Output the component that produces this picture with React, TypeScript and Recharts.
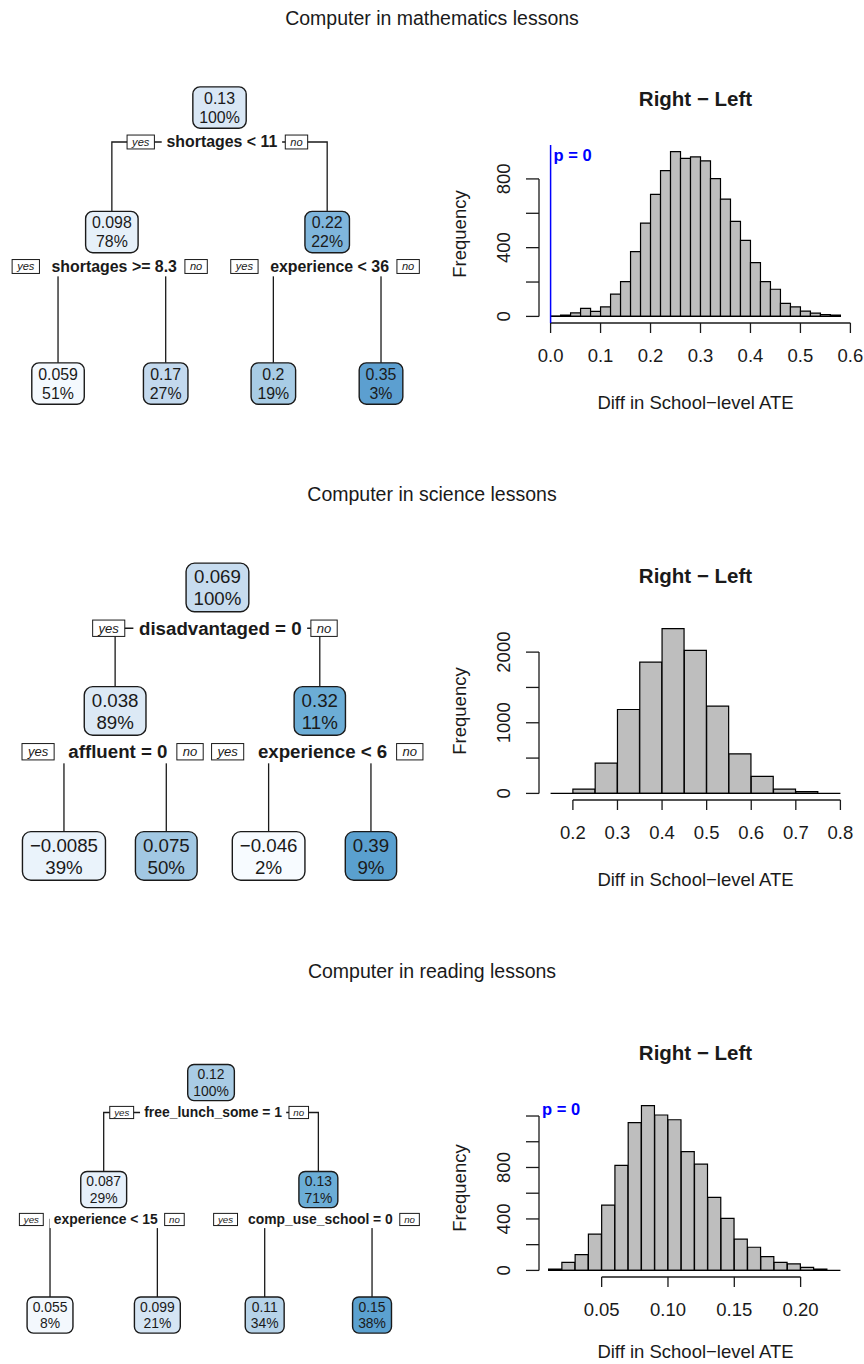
import React from 'react';
import {
  Bar,
  ComposedChart,
  ReferenceDot,
  ReferenceLine,
  Scatter,
  ScatterChart,
  XAxis,
  YAxis,
} from 'recharts';

const FONT = '"Liberation Sans", Arial, Helvetica, sans-serif';
const INK = '#1a1a1a';

// tree nodes: root, left child, right child, then the four leaves left to right
const mathFit = ['0.13', '0.098', '0.22', '0.059', '0.17', '0.2', '0.35'];
const mathShare = ['100%', '78%', '22%', '51%', '27%', '19%', '3%'];
const mathSplit = ['shortages < 11', 'shortages >= 8.3', 'experience < 36'];

const sciFit = ['0.069', '0.038', '0.32', '\u22120.0085', '0.075', '\u22120.046', '0.39'];
const sciShare = ['100%', '89%', '11%', '39%', '50%', '2%', '9%'];
const sciSplit = ['disadvantaged = 0', 'affluent = 0', 'experience < 6'];

const readFit = ['0.12', '0.087', '0.13', '0.055', '0.099', '0.11', '0.15'];
const readShare = ['100%', '29%', '71%', '8%', '21%', '34%', '38%'];
const readSplit = ['free_lunch_some = 1', 'experience < 15', 'comp_use_school = 0'];

// box colours (Blues palette by fitted value)
const mathFill = ['#d9e7f5', '#e6f0f9', '#7fb6dc', '#f4f9fe', '#c3d9ee', '#a8cce5', '#5c9fd0'];
const sciFill = ['#c7dcef', '#dce9f5', '#6cadd6', '#eaf3fb', '#a2c8e3', '#f7fbff', '#5aa0cf'];
const readFill = ['#a9cce5', '#e6f0fa', '#6badd6', '#f3f8fd', '#d5e5f4', '#b6d3e9', '#5ba1d0'];

// histograms of the bootstrap difference (bin starts and counts)
const mathBins = [0, 0.02, 0.04, 0.06, 0.08, 0.1, 0.12, 0.14, 0.16, 0.18, 0.2, 0.22, 0.24, 0.26, 0.28,
  0.3, 0.32, 0.34, 0.36, 0.38, 0.4, 0.42, 0.44, 0.46, 0.48, 0.5, 0.52, 0.54, 0.56];
const mathCounts = [2, 8, 20, 47, 29, 55, 130, 202, 377, 543, 710, 848, 959, 920, 928,
  905, 802, 683, 553, 442, 313, 202, 158, 76, 55, 31, 19, 10, 8];

const sciBins = [0.2, 0.25, 0.3, 0.35, 0.4, 0.45, 0.5, 0.55, 0.6, 0.65, 0.7];
const sciCounts = [62, 428, 1188, 1857, 2333, 2024, 1235, 561, 242, 62, 24];

const readBins = [0.01, 0.02, 0.03, 0.04, 0.05, 0.06, 0.07, 0.08, 0.09, 0.1, 0.11, 0.12, 0.13, 0.14,
  0.15, 0.16, 0.17, 0.18, 0.19, 0.2, 0.21];
const readCounts = [10, 63, 123, 282, 507, 816, 1148, 1281, 1208, 1171, 923, 826, 567, 405,
  243, 180, 107, 63, 50, 24, 10];

const mathXTicks = [0, 0.1, 0.2, 0.3, 0.4, 0.5, 0.6];
const sciXTicks = [0.2, 0.3, 0.4, 0.5, 0.6, 0.7, 0.8];
const readXTicks = [0.05, 0.1, 0.15, 0.2];
const mathYTicks = [0, 200, 400, 600, 800];
const sciYTicks = [0, 500, 1000, 1500, 2000];
const readYTicks = [0, 200, 400, 600, 800, 1000, 1200];
const mathYLabels = [0, 400, 800];
const sciYLabels = [0, 1000, 2000];
const readYLabels = [0, 400, 800];

let measureCtx: CanvasRenderingContext2D | null = null;
function textWidth(s: string, size: number, weight = 'normal', style = 'normal') {
  if (!measureCtx) measureCtx = document.createElement('canvas').getContext('2d');
  if (!measureCtx) return s.length * size * 0.55;
  measureCtx.font = `${style} ${weight} ${size}px "Liberation Sans"`;
  return measureCtx.measureText(s).width;
}

interface TreeLayout {
  font: number;
  xDomain: [number, number];
  yDomain: [number, number];
  leafDepth: number;
  labelGap: number;
  top: number;
  height: number;
}

const noDot = () => <g />;

function NodeBox(props: any) {
  const { cx, cy, payload } = props;
  const f = payload.font;
  const w = Math.max(textWidth(payload.fit, f), textWidth(payload.share, f)) + 0.8 * f;
  const h = 2.6 * f;
  return (
    <g>
      <rect x={cx - w / 2} y={cy - h / 2} width={w} height={h} rx={0.45 * f}
        fill={payload.fill} stroke={INK} strokeWidth={1.4} />
      <text x={cx} y={cy - 0.58 * f} textAnchor="middle" dominantBaseline="central"
        fontSize={f} fill={INK}>{payload.fit}</text>
      <text x={cx} y={cy + 0.6 * f} textAnchor="middle" dominantBaseline="central"
        fontSize={f} fill={INK}>{payload.share}</text>
    </g>
  );
}

function SplitLabel(props: any) {
  const { cx, cy, payload } = props;
  const f = payload.font;
  const tw = textWidth(payload.split, f, 'bold');
  const tc = cx + 0.15 * f;
  const left = tc - tw / 2;
  const right = tc + tw / 2;
  const yf = 0.7 * f;
  const yesW = textWidth('yes', yf, 'normal', 'italic') + 0.9 * yf;
  const noW = textWidth('no', yf, 'normal', 'italic') + 0.9 * yf;
  const bh = 1.25 * yf;
  const yesX = left - 0.76 * f - yesW;
  const noX = right + 0.5 * f;
  return (
    <g>
      <rect x={left - 0.3 * f} y={cy - 0.62 * f} width={tw + 0.6 * f} height={1.24 * f} fill="#fff" />
      <text x={tc} y={cy} textAnchor="middle" dominantBaseline="central" fontSize={f}
        fontWeight="bold" fill={INK}>{payload.split}</text>
      <rect x={yesX} y={cy - bh / 2} width={yesW} height={bh} fill="#fff" stroke={INK} strokeWidth={1} />
      <text x={yesX + yesW / 2} y={cy} textAnchor="middle" dominantBaseline="central"
        fontSize={yf} fontStyle="italic" fill={INK}>yes</text>
      <rect x={noX} y={cy - bh / 2} width={noW} height={bh} fill="#fff" stroke={INK} strokeWidth={1} />
      <text x={noX + noW / 2} y={cy} textAnchor="middle" dominantBaseline="central"
        fontSize={yf} fontStyle="italic" fill={INK}>no</text>
    </g>
  );
}

function Tree({ fit, share, split, fill, lay }: {
  fit: string[]; share: string[]; split: string[]; fill: string[]; lay: TreeLayout;
}) {
  const nodes = fit.map((v, i) => ({ fit: v, share: share[i], fill: fill[i], font: lay.font, x: 0, y: 0 }));
  for (let i = 3; i < 7; i++) {
    nodes[i].x = i - 3;
    nodes[i].y = lay.leafDepth;
  }
  for (let i = 2; i >= 0; i--) {
    nodes[i].x = (nodes[2 * i + 1].x + nodes[2 * i + 2].x) / 2;
    nodes[i].y = i === 0 ? 0 : 1;
  }
  const labels = split.map((s, i) => ({ split: s, font: lay.font, x: nodes[i].x, y: nodes[i].y + lay.labelGap }));
  const branches = split.map((_, i) => {
    const l = nodes[2 * i + 1];
    const r = nodes[2 * i + 2];
    const yl = nodes[i].y + lay.labelGap;
    return [{ x: l.x, y: l.y }, { x: l.x, y: yl }, { x: r.x, y: yl }, { x: r.x, y: r.y }];
  });

  return (
    <div style={{ position: 'absolute', left: 0, top: lay.top }}>
      <ScatterChart width={430} height={lay.height} margin={{ top: 0, right: 0, bottom: 0, left: 0 }}>
        <XAxis type="number" dataKey="x" domain={lay.xDomain} allowDataOverflow hide />
        <YAxis type="number" dataKey="y" domain={lay.yDomain} allowDataOverflow reversed hide />
        {branches.map((pts, i) => (
          <Scatter key={`b${i}`} data={pts} line={{ stroke: INK, strokeWidth: 1.3 }} shape={noDot}
            isAnimationActive={false} />
        ))}
        <Scatter data={labels} shape={SplitLabel} isAnimationActive={false} />
        <Scatter data={nodes} shape={NodeBox} isAnimationActive={false} />
      </ScatterChart>
    </div>
  );
}

function Histogram({ top, bins, binWidth, counts, xlim, xTicks, decimals, yTicks, yLabels, showP, titleOffset }: {
  top: number; bins: number[]; binWidth: number; counts: number[]; xlim: [number, number];
  xTicks: number[]; decimals: number; yTicks: number[]; yLabels: number[]; showP: boolean; titleOffset: number;
}) {
  const data = bins.map((b, i) => ({ mid: b + binWidth / 2, count: counts[i] }));
  const ymax = Math.max(...counts);
  const xPad = 0.04 * (xlim[1] - xlim[0]);
  const xDomain: [number, number] = [xlim[0] - xPad, xlim[1] + xPad];
  const yDomain: [number, number] = [-0.04 * ymax, 1.04 * ymax];

  const yTick = (p: any) => {
    const { x, y, payload } = p;
    return (
      <g>
        <line x1={x - 13} y1={y} x2={x} y2={y} stroke={INK} strokeWidth={1.3} />
        {yLabels.includes(payload.value) && (
          <text x={x - 35} y={y} transform={`rotate(-90 ${x - 35} ${y})`} textAnchor="middle"
            dominantBaseline="central" fontSize={18.5} fill={INK}>{payload.value}</text>
        )}
      </g>
    );
  };
  const xTick = (p: any) => {
    const { x, y, payload } = p;
    return (
      <g>
        <line x1={x} y1={y} x2={x} y2={y + 10} stroke={INK} strokeWidth={1.3} />
        <text x={x} y={y + 32} textAnchor="middle" dominantBaseline="central" fontSize={18.5}
          fill={INK}>{Number(payload.value).toFixed(decimals)}</text>
      </g>
    );
  };
  const pText = (p: any) => (
    <text x={p.cx + 3} y={p.cy + 10} dominantBaseline="central" fontSize={16.5} fontWeight="bold"
      fill="#0000ff">p = 0</text>
  );

  return (
    <div style={{ position: 'absolute', left: 440, top, width: 424, height: 340 }}>
      <div style={{ position: 'absolute', left: 99, top: 7, width: 313, textAlign: 'center',
        fontSize: 20.5, lineHeight: '24px', fontWeight: 'bold', color: INK }}>
        Right {'\u2212'} Left
      </div>
      <ComposedChart width={424} height={340} data={data} barCategoryGap={0} barGap={0}
        margin={{ top: 65, right: 12, bottom: 0, left: 0 }}>
        <XAxis type="number" dataKey="mid" domain={xDomain} allowDataOverflow ticks={xTicks} interval={0}
          axisLine={false} tickLine={false} tickSize={0} tickMargin={0} height={97} tick={xTick}
          label={{ value: 'Diff in School\u2212level ATE', position: 'insideBottom', offset: titleOffset,
            fontSize: 18.5, fill: INK }} />
        <YAxis type="number" domain={yDomain} allowDataOverflow ticks={yTicks} interval={0}
          axisLine={false} tickLine={false} tickSize={0} tickMargin={0} width={99} tick={yTick}
          label={{ value: 'Frequency', angle: -90, position: 'insideLeft', offset: 19,
            style: { textAnchor: 'middle' }, fontSize: 18.5, fill: INK }} />
        <Bar dataKey="count" fill="#bebebe" stroke="#000" strokeWidth={1.2} isAnimationActive={false} />
        <ReferenceLine segment={[{ x: xlim[0], y: 0 }, { x: xlim[1], y: 0 }]} stroke="#000"
          strokeWidth={1.3} ifOverflow="visible" />
        <ReferenceLine segment={[{ x: xDomain[0], y: 0 }, { x: xDomain[0], y: yTicks[yTicks.length - 1] }]}
          stroke={INK} strokeWidth={1.3} ifOverflow="visible" />
        <ReferenceLine segment={[{ x: xTicks[0], y: yDomain[0] }, { x: xTicks[xTicks.length - 1], y: yDomain[0] }]}
          stroke={INK} strokeWidth={1.3} ifOverflow="visible" />
        {showP && 0 >= xDomain[0] && <ReferenceLine x={0} stroke="#0000ff" strokeWidth={1.5} />}
        {showP && (
          <ReferenceDot x={Math.max(0, xDomain[0])} y={yDomain[1]} r={0} shape={pText} ifOverflow="visible" />
        )}
      </ComposedChart>
    </div>
  );
}

const mathLayout: TreeLayout = { font: 15.9, xDomain: [-0.539, 3.455], yDomain: [-0.221, 2.51],
  leafDepth: 2.217, labelGap: 0.277, top: 80, height: 340 };
const sciLayout: TreeLayout = { font: 18.7, xDomain: [-0.625, 3.577], yDomain: [-0.263, 2.49],
  leafDepth: 2.174, labelGap: 0.33, top: 555, height: 340 };
const readLayout: TreeLayout = { font: 13.9, xDomain: [-0.466, 3.54], yDomain: [-0.304, 2.5],
  leafDepth: 2.173, labelGap: 0.28, top: 1050, height: 300 };

const rowTitle = (text: string, y: number) => (
  <div style={{ position: 'absolute', left: 0, top: y - 12, width: 864, textAlign: 'center',
    fontSize: 19.5, lineHeight: '24px', color: INK }}>{text}</div>
);

export default function App() {
  return (
    <div style={{ position: 'absolute', left: 0, top: 0, width: 864, height: 1364, background: '#fff',
      fontFamily: FONT }}>
      {rowTitle('Computer in mathematics lessons', 18)}
      {rowTitle('Computer in science lessons', 494)}
      {rowTitle('Computer in reading lessons', 971)}

      <Tree fit={mathFit} share={mathShare} split={mathSplit} fill={mathFill} lay={mathLayout} />
      <Tree fit={sciFit} share={sciShare} split={sciSplit} fill={sciFill} lay={sciLayout} />
      <Tree fit={readFit} share={readShare} split={readSplit} fill={readFill} lay={readLayout} />

      <Histogram top={80} bins={mathBins} binWidth={0.02} counts={mathCounts} xlim={[0, 0.58]}
        xTicks={mathXTicks} decimals={1} yTicks={mathYTicks} yLabels={mathYLabels} showP titleOffset={11} />
      <Histogram top={557} bins={sciBins} binWidth={0.05} counts={sciCounts} xlim={[0.15, 0.8]}
        xTicks={sciXTicks} decimals={1} yTicks={sciYTicks} yLabels={sciYLabels} showP={false} titleOffset={11} />
      <Histogram top={1034} bins={readBins} binWidth={0.01} counts={readCounts} xlim={[0.0115, 0.23]}
        xTicks={readXTicks} decimals={2} yTicks={readYTicks} yLabels={readYLabels} showP titleOffset={16} />
    </div>
  );
}
